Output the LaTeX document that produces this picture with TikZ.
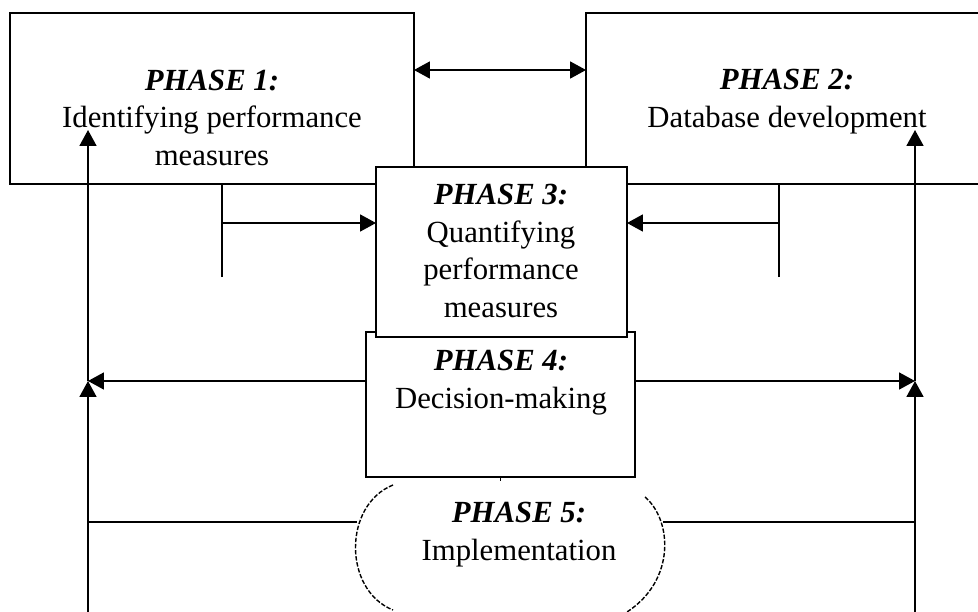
\documentclass[tikz,border=0pt]{standalone}
\usepackage{fontspec}
\setmainfont{Liberation Serif}
\usetikzlibrary{arrows.meta}

\newcommand{\phasehead}[1]{\textbf{\textit{PHASE #1:}}}

\tikzset{
  phasebox/.style={draw, fill=white, line width=1pt, inner sep=0pt, outer sep=0pt},
  phasetext/.style={align=center, anchor=base, inner sep=0pt, font=\fontsize{17.5}{21.3}\selectfont},
  link/.style={line width=1pt},
  arr/.style={link, -{Triangle[length=0.32cm, width=0.34cm]}},
  biarr/.style={link, {Triangle[length=0.32cm, width=0.34cm]}-{Triangle[length=0.32cm, width=0.34cm]}},
  rim/.style={line width=0.8pt, dash pattern=on 2.5pt off 1pt},
}

\begin{document}
\begin{tikzpicture}[x=0.02cm, y=-0.02cm]
\useasboundingbox (0,0) rectangle (978,612);
\clip (0,0) rectangle (978,612);

% phase boxes
\node[phasebox, minimum width=8.08cm, minimum height=3.42cm] (p1) at (212,98.5) {};
\node[phasebox, minimum width=8.28cm, minimum height=3.42cm] (p2) at (793,98.5) {};
\node[phasebox, minimum width=5.38cm, minimum height=2.9cm] (p4) at (500.5,404.5) {};
\node[phasebox, minimum width=5.02cm, minimum height=3.4cm] (p3) at (501.5,252) {};

% phase 5 outline
\draw[rim] (393,485) .. controls (343,505) and (343,590) .. (393,610);
\draw[rim] (645,497) .. controls (672,520) and (676,580) .. (627,612);

% texts (base = last line)
\node[phasetext] (t1) at (212,165) {\phasehead{1}\\Identifying performance\\measures};
\node[phasetext] (t2) at (787,127) {\phasehead{2}\\Database development};
\node[phasetext] (t3) at (501,317) {\phasehead{3}\\Quantifying\\performance\\measures};
\node[phasetext] (t4) at (501,408) {\phasehead{4}\\Decision-making};
\node[phasetext] (t5) at (519,560) {\phasehead{5}\\Implementation};

% helper points
\coordinate (lb) at (88,612);
\coordinate (lm) at (88,381);
\coordinate (lt) at (88,130);
\coordinate (rb) at (915,612);
\coordinate (rm) at (915,381);
\coordinate (rt) at (915,130);
\coordinate (fl) at (222,277);
\coordinate (fl2) at (222,223);
\coordinate (fr) at (779,277);
\coordinate (fr2) at (779,223);
\coordinate (p5w) at (357,522);
\coordinate (p5e) at (663,522);

% connectors
\draw[biarr] ([yshift=0.57cm]p1.east) -- ([yshift=0.57cm]p2.west);
\draw[link] (fl) -- (fl |- p1.south);
\draw[arr] (fl2) -- (fl2 -| p3.west);
\draw[link] (fr) -- (fr |- p2.south);
\draw[arr] (fr2) -- (fr2 -| p3.east);
\draw[arr] (lm -| p4.west) -- (lm);
\draw[arr] (rm -| p4.east) -- (rm);
\draw[arr] (lb) -- (lm);
\draw[arr] (lm) -- (lt);
\draw[arr] (rb) -- (rm);
\draw[arr] (rm) -- (rt);
\draw[link] (p5w) -- (p5w -| lb);
\draw[link] (p5e) -- (p5e -| rb);
\draw[link] (p4.south) -- ++(0,4);
\end{tikzpicture}
\end{document}
